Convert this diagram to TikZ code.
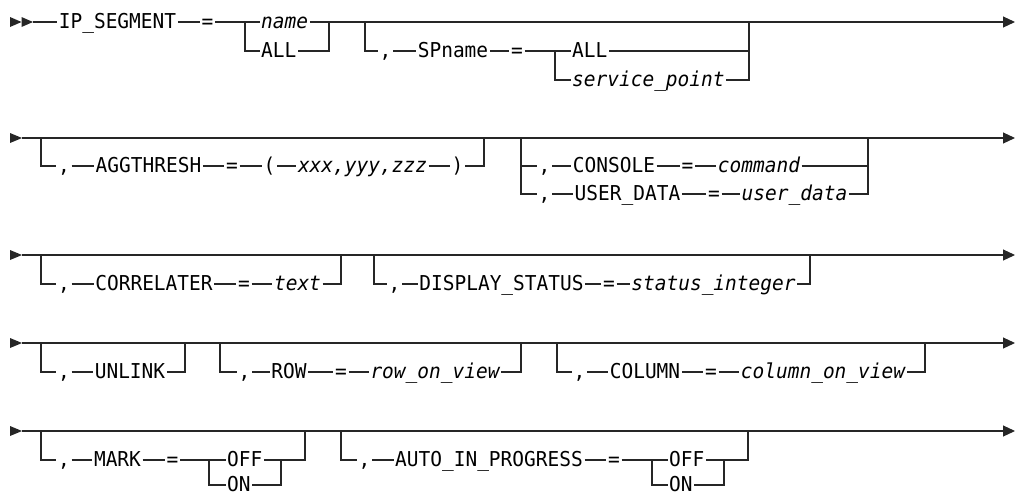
\documentclass[tikz,border=0pt]{standalone}
\usepackage{fontspec}
\newfontfamily\railfont{DejaVu Sans Mono}[FakeStretch=0.95]
\usetikzlibrary{arrows.meta}
\newcommand\rfont{\railfont\fontsize{20.5pt}{23pt}\selectfont}
\tikzset{
  rail/.style={line width=1.1pt, draw=black!85},
  kw/.style={font=\rfont, inner xsep=1.5pt, inner ysep=0pt, text height=12pt, text depth=0pt, anchor=center, text=black},
  kwl/.style={kw, anchor=west},
  var/.style={kw, font=\rfont\itshape},
  varl/.style={var, anchor=west},
  endrail/.style={rail, -{Triangle[length=12pt,width=11pt]}},
  starttri/.style={fill=black!85},
}
\begin{document}
\begin{tikzpicture}[x=1pt,y=-1pt]
\useasboundingbox (0,0) rectangle (1018,496);

% ================= Row 1 =================
\fill[starttri] (10,17) -- (21.5,22) -- (10,27) -- cycle;
\fill[starttri] (21.5,17) -- (33,22) -- (21.5,27) -- cycle;
\coordinate (s1) at (33,22);
\node[kw] (ipseg) at (117.5,22) {IP\_SEGMENT};
\node[kw] (eq1) at (207.5,22) {=};
\coordinate (b1) at (245,22);
\node[varl] (name) at (259.5,22) {name};
\node[kwl] (all1) at (259.5,51) {ALL};
\coordinate (e1) at (329,22);
\coordinate (ob1) at (365,22);
\node[kw] (comma1) at (385.5,51) {,};
\node[kw] (spname) at (453,51) {SPname};
\node[kw] (eq2) at (517,51) {=};
\coordinate (c2) at (555,51);
\node[kwl] (all2) at (570.5,51) {ALL};
\node[varl] (sp) at (570.5,80) {service\_point};
\coordinate (e2) at (749,22);
\coordinate (end1) at (1015,22);

\draw[rail] (s1) -- (ipseg) -- (eq1) -- (name) -- (e1);
\draw[rail] (b1) |- (all1);
\draw[rail] (all1) -| (e1);
\draw[rail] (ob1) |- (comma1);
\draw[rail] (comma1) -- (spname) -- (eq2) -- (all2) -- (all2 -| e2);
\draw[rail] (c2) |- (sp);
\draw[rail] (sp) -| (e2);
\draw[endrail] (e1) -- (ob1) -- (e2) -- (end1);

% ================= Row 2 =================
\fill[starttri] (10,133) -- (22,138) -- (10,143) -- cycle;
\coordinate (s2) at (22,138);
\coordinate (ob2) at (41,138);
\node[kw] (comma2) at (64,166) {,};
\node[kw] (agg) at (148.5,166) {AGGTHRESH};
\node[kw] (eq3) at (232,166) {=};
\node[kw] (lp) at (269.5,166) {(};
\node[var] (xyz) at (362.5,166) {xxx,yyy,zzz};
\node[kw] (rp) at (457.5,166) {)};
\coordinate (e3) at (484,138);
\coordinate (ob3) at (521,138);
\node[kw] (comma3) at (544.5,166) {,};
\node[kw] (console) at (614,166) {CONSOLE};
\node[kw] (eq4) at (687.5,166) {=};
\node[var] (command) at (759,166) {command};
\node[kw] (comma4) at (544.5,194) {,};
\node[kw] (userdata) at (627.5,194) {USER\_DATA};
\node[kw] (eq5) at (714,194) {=};
\node[var] (udata) at (794.5,194) {user\_data};
\coordinate (e4) at (868,138);
\coordinate (end2) at (1015,138);

\draw[rail] (ob2) |- (comma2);
\draw[rail] (comma2) -- (agg) -- (eq3) -- (lp) -- (xyz) -- (rp);
\draw[rail] (rp) -| (e3);
\draw[rail] (ob3) |- (comma3);
\draw[rail] (comma3) -- (console) -- (eq4) -- (command) -- (command -| e4);
\draw[rail] (ob3) |- (comma4);
\draw[rail] (comma4) -- (userdata) -- (eq5) -- (udata);
\draw[rail] (udata) -| (e4);
\draw[endrail] (s2) -- (ob2) -- (e3) -- (ob3) -- (e4) -- (end2);

% ================= Row 3 =================
\fill[starttri] (10,250) -- (22,255) -- (10,260) -- cycle;
\coordinate (s3) at (22,255);
\coordinate (ob4) at (41,255);
\node[kw] (comma5) at (64,284) {,};
\node[kw] (correl) at (154,284) {CORRELATER};
\node[kw] (eq6) at (244,284) {=};
\node[var] (text) at (297.5,284) {text};
\coordinate (e5) at (341,255);
\coordinate (ob5) at (374,255);
\node[kw] (comma6) at (394.5,284) {,};
\node[kw] (disp) at (501.5,284) {DISPLAY\_STATUS};
\node[kw] (eq7) at (609,284) {=};
\node[var] (statint) at (713.5,284) {status\_integer};
\coordinate (e6) at (810,255);
\coordinate (end3) at (1015,255);

\draw[rail] (ob4) |- (comma5);
\draw[rail] (comma5) -- (correl) -- (eq6) -- (text);
\draw[rail] (text) -| (e5);
\draw[rail] (ob5) |- (comma6);
\draw[rail] (comma6) -- (disp) -- (eq7) -- (statint);
\draw[rail] (statint) -| (e6);
\draw[endrail] (s3) -- (ob4) -- (e5) -- (ob5) -- (e6) -- (end3);

% ================= Row 4 =================
\fill[starttri] (10,338) -- (22,343) -- (10,348) -- cycle;
\coordinate (s4) at (22,343);
\coordinate (ob6) at (41,343);
\node[kw] (comma7) at (64,372) {,};
\node[kw] (unlink) at (130,372) {UNLINK};
\coordinate (e7) at (185,343);
\coordinate (ob7) at (220,343);
\node[kw] (comma8) at (244.5,372) {,};
\node[kw] (row) at (289,372) {ROW};
\node[kw] (eq8) at (341,372) {=};
\node[var] (rowview) at (435,372) {row\_on\_view};
\coordinate (e8) at (521,343);
\coordinate (ob8) at (557,343);
\node[kw] (comma9) at (579.5,372) {,};
\node[kw] (column) at (645,372) {COLUMN};
\node[kw] (eq9) at (711,372) {=};
\node[var] (colview) at (823,372) {column\_on\_view};
\coordinate (e9) at (925,343);
\coordinate (end4) at (1015,343);

\draw[rail] (ob6) |- (comma7);
\draw[rail] (comma7) -- (unlink);
\draw[rail] (unlink) -| (e7);
\draw[rail] (ob7) |- (comma8);
\draw[rail] (comma8) -- (row) -- (eq8) -- (rowview);
\draw[rail] (rowview) -| (e8);
\draw[rail] (ob8) |- (comma9);
\draw[rail] (comma9) -- (column) -- (eq9) -- (colview);
\draw[rail] (colview) -| (e9);
\draw[endrail] (s4) -- (ob6) -- (e7) -- (ob7) -- (e8) -- (ob8) -- (e9) -- (end4);

% ================= Row 5 =================
\fill[starttri] (10,426) -- (22,431) -- (10,436) -- cycle;
\coordinate (s5) at (22,431);
\coordinate (ob9) at (41,431);
\node[kw] (comma10) at (64,460) {,};
\node[kw] (mark) at (117.5,460) {MARK};
\node[kw] (eq10) at (172.5,460) {=};
\coordinate (c10) at (209,460);
\node[kwl] (off1) at (225.5,460) {OFF};
\node[kwl] (on1) at (225.5,485) {ON};
\coordinate (j1) at (281,460);
\coordinate (e10) at (305,431);
\coordinate (ob10) at (341,431);
\node[kw] (comma11) at (364.5,460) {,};
\node[kw] (auto) at (489,460) {AUTO\_IN\_PROGRESS};
\node[kw] (eq11) at (614,460) {=};
\coordinate (c11) at (652,460);
\node[kwl] (off2) at (667.5,460) {OFF};
\node[kwl] (on2) at (667.5,485) {ON};
\coordinate (j2) at (724,460);
\coordinate (e11) at (748,431);
\coordinate (end5) at (1015,431);

\draw[rail] (ob9) |- (comma10);
\draw[rail] (comma10) -- (mark) -- (eq10) -- (off1) -- (j1) -- (j1 -| e10) -- (e10);
\draw[rail] (c10) |- (on1);
\draw[rail] (on1) -| (j1);
\draw[rail] (ob10) |- (comma11);
\draw[rail] (comma11) -- (auto) -- (eq11) -- (off2) -- (j2) -- (j2 -| e11) -- (e11);
\draw[rail] (c11) |- (on2);
\draw[rail] (on2) -| (j2);
\draw[endrail] (s5) -- (ob9) -- (e10) -- (ob10) -- (e11) -- (end5);
\end{tikzpicture}
\end{document}
